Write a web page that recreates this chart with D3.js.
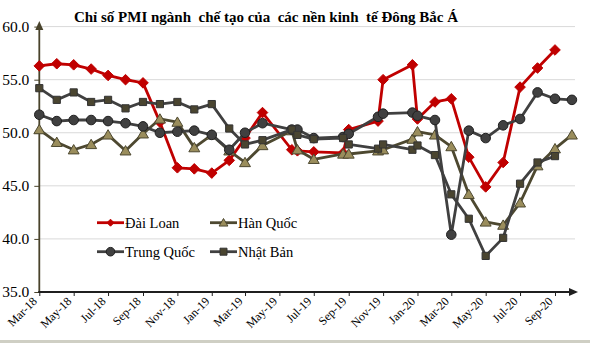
<!DOCTYPE html>
<html>
<head>
<meta charset="utf-8">
<script src="https://cdn.jsdelivr.net/npm/d3@7"></script>
<style>
  html, body { margin: 0; padding: 0; background: #fff; }
  svg { display: block; font-family: "Liberation Serif", "Times New Roman", serif; }
</style>
</head>
<body>
<svg id="chart" width="590" height="343"></svg>
<script>
// Observation dates (one per reading)
const dates = [
  "2018-03-01","2018-04-01","2018-05-01","2018-06-01","2018-07-01","2018-08-01",
  "2018-09-01","2018-10-01","2018-11-01","2018-12-01","2019-01-01","2019-02-01",
  "2019-03-01","2019-04-01","2019-05-23","2019-06-02","2019-07-01","2019-08-22",
  "2019-09-01","2019-10-23","2019-11-01","2019-12-23","2020-01-01","2020-02-01",
  "2020-03-01","2020-04-01","2020-05-01","2020-06-01","2020-07-01","2020-08-01",
  "2020-09-01","2020-10-01"
];

// PMI readings per economy (null = no reading)
const daiLoan = [56.3,56.5,56.4,56.0,55.4,55.0,54.7,51.0,46.7,46.6,46.2,47.4,49.5,51.9,48.4,48.3,
                 48.2,48.1,50.3,51.1,55.0,56.4,51.3,52.9,53.2,47.7,44.9,47.2,54.3,56.1,57.8,null];
const hanQuoc = [50.3,49.1,48.4,48.9,49.8,48.3,49.9,51.3,51.0,48.6,49.8,48.3,47.2,48.8,50.2,48.4,
                 47.5,48.0,48.0,48.3,48.4,49.4,50.1,49.8,48.7,44.2,41.6,41.3,43.4,46.9,48.5,49.8];
const trungQuoc = [51.7,51.1,51.2,51.2,51.1,50.9,50.6,50.0,50.1,50.2,49.8,48.4,50.0,50.9,50.3,50.3,
                   49.5,49.6,49.9,51.5,51.8,51.9,51.6,51.2,40.4,50.2,49.5,50.7,51.3,53.8,53.2,53.1];
const nhatBan = [54.2,53.1,53.8,52.9,53.1,52.3,52.9,52.7,52.9,52.2,52.7,50.4,48.9,49.3,50.3,49.8,
                 49.4,49.5,48.9,48.5,48.9,48.4,48.8,47.9,44.2,41.9,38.4,40.1,45.2,47.2,47.8,null];

const seriesNames = ["Đài Loan", "Hàn Quốc", "Trung Quốc", "Nhật Bản"];
const xTickLabels = ["Mar-18","May-18","Jul-18","Sep-18","Nov-18","Jan-19","Mar-19","May-19",
                     "Jul-19","Sep-19","Nov-19","Jan-20","Mar-20","May-20","Jul-20","Sep-20"];
const yTicks = [35, 40, 45, 50, 55, 60];
const titleText = "Chỉ số PMI ngành  chế tạo của  các nền kinh  tế Đông Bắc Á";

const parseDay = d3.utcParse("%Y-%m-%d");
const parseTick = d3.utcParse("%b-%y");
const fmtTick = d3.utcFormat("%b-%y");

const svg = d3.select("#chart");
const plotLeft = 39.3, plotRight = 555, plotTop = 26.6, plotBottom = 292, axisEnd = 578;

const x = d3.scaleUtc()
  .domain([parseTick(xTickLabels[0]), parseTick(xTickLabels[xTickLabels.length - 1])])
  .range([plotLeft, plotRight]);
const y = d3.scaleLinear().domain([35, 60]).range([plotBottom, plotTop]);

// Title
svg.append("text")
  .attr("x", 266).attr("y", 22)
  .attr("text-anchor", "middle")
  .style("white-space", "pre")
  .attr("font-weight", "bold").attr("font-size", 15)
  .attr("fill", "#000")
  .text(titleText);

// Horizontal gridlines
svg.append("g").selectAll("line")
  .data(yTicks.filter(d => d > 35))
  .join("line")
  .attr("x1", plotLeft).attr("x2", 575)
  .attr("y1", d => y(d)).attr("y2", d => y(d))
  .attr("stroke", "#d9d9d9").attr("stroke-width", 1);

// Y axis
const yAxis = svg.append("g").attr("transform", `translate(${plotLeft},0)`)
  .call(d3.axisLeft(y).tickValues(yTicks).tickFormat(d3.format(".1f")).tickSize(5).tickPadding(5));
yAxis.select(".domain").remove();
yAxis.selectAll(".tick line").attr("stroke", "#49432b").attr("stroke-width", 1);
yAxis.selectAll(".tick text")
  .attr("font-family", "Liberation Serif, serif").attr("font-size", 15.5).attr("fill", "#000");
svg.append("line")
  .attr("x1", plotLeft).attr("x2", plotLeft).attr("y1", plotBottom).attr("y2", 28)
  .attr("stroke", "#49432b").attr("stroke-width", 1.8);
svg.append("path")
  .attr("d", `M${plotLeft},21 L${plotLeft + 4},30 L${plotLeft - 4},30 Z`)
  .attr("fill", "#49432b");

// X axis
const xAxis = svg.append("g").attr("transform", `translate(0,${plotBottom})`)
  .call(d3.axisBottom(x).tickValues(xTickLabels.map(parseTick)).tickFormat(fmtTick).tickSize(4));
xAxis.select(".domain").remove();
xAxis.selectAll(".tick line").attr("stroke", "#1f1f1f").attr("stroke-width", 1);
xAxis.selectAll(".tick text")
  .attr("font-family", "Liberation Serif, serif").attr("font-size", 12).attr("fill", "#000")
  .attr("text-anchor", "end")
  .attr("x", 0).attr("y", 0).attr("dy", 0)
  .attr("transform", "translate(-2,10) rotate(-45)");
svg.append("line")
  .attr("x1", plotLeft - 1).attr("x2", axisEnd - 6).attr("y1", plotBottom).attr("y2", plotBottom)
  .attr("stroke", "#1f1f1f").attr("stroke-width", 2);
svg.append("path")
  .attr("d", `M${axisEnd},${plotBottom} L${axisEnd - 9},${plotBottom - 4} L${axisEnd - 9},${plotBottom + 4} Z`)
  .attr("fill", "#1f1f1f");

// Marker shapes
const markerPath = {
  diamond: s => `M0,${-s} L${s},0 L0,${s} L${-s},0 Z`,
  triangle: s => `M0,${-s} L${s * 1.05},${s * 0.8} L${-s * 1.05},${s * 0.8} Z`,
  square: s => `M${-s},${-s} H${s} V${s} H${-s} Z`
};

const series = [
  { name: seriesNames[0], values: daiLoan, line: "#c00000", fill: "#c00000", stroke: "#c00000",
    shape: "diamond", size: 5.3, legendSize: 3.5 },
  { name: seriesNames[1], values: hanQuoc, line: "#4d4830", fill: "#9a8d5c", stroke: "#4d4830",
    shape: "triangle", size: 5.2, legendSize: 4.2 },
  { name: seriesNames[2], values: trungQuoc, line: "#404040", fill: "#404040", stroke: "#202020",
    shape: "circle", size: 4.8, legendSize: 4.3 },
  { name: seriesNames[3], values: nhatBan, line: "#404040", fill: "#4a4530", stroke: "#333",
    shape: "square", size: 3.6, legendSize: 3.5 }
];

function drawMarker(sel, s, size) {
  if (s.shape === "circle") {
    sel.append("circle").attr("r", size).attr("fill", s.fill)
      .attr("stroke", s.stroke).attr("stroke-width", 1);
  } else {
    sel.append("path").attr("d", markerPath[s.shape](size)).attr("fill", s.fill)
      .attr("stroke", s.stroke).attr("stroke-width", 1);
  }
}

const lineGen = d3.line()
  .defined(d => d.v != null)
  .x(d => x(d.t)).y(d => y(d.v));

series.forEach(s => {
  const pts = dates.map((d, i) => ({ t: parseDay(d), v: s.values[i] }));
  const g = svg.append("g");
  g.append("path").datum(pts)
    .attr("d", lineGen)
    .attr("fill", "none").attr("stroke", s.line)
    .attr("stroke-width", 2.8).attr("stroke-linejoin", "round");
  g.selectAll("g.m").data(pts.filter(p => p.v != null)).join("g")
    .attr("class", "m")
    .attr("transform", p => `translate(${x(p.t)},${y(p.v)})`)
    .each(function () { drawMarker(d3.select(this), s, s.size); });
});

// Legend, two rows of two entries
const legendPos = [[97, 222.7], [210, 222.7], [97, 251.7], [210, 251.7]];
series.forEach((s, i) => {
  const [lx, ly] = legendPos[i];
  const g = svg.append("g").attr("transform", `translate(${lx},${ly})`);
  g.append("line").attr("x1", 0).attr("x2", 27).attr("y1", 0).attr("y2", 0)
    .attr("stroke", s.line).attr("stroke-width", 2.8);
  const m = g.append("g").attr("transform", "translate(13.5,0)");
  drawMarker(m, s, s.legendSize);
  g.append("text").attr("x", 28).attr("y", 5)
    .attr("font-size", 14.5).attr("fill", "#000")
    .text(s.name);
});

// Bottom frame edge
svg.append("rect").attr("x", 0).attr("y", 340).attr("width", 590).attr("height", 3)
  .attr("fill", "#cfcfc4");
</script>
</body>
</html>
